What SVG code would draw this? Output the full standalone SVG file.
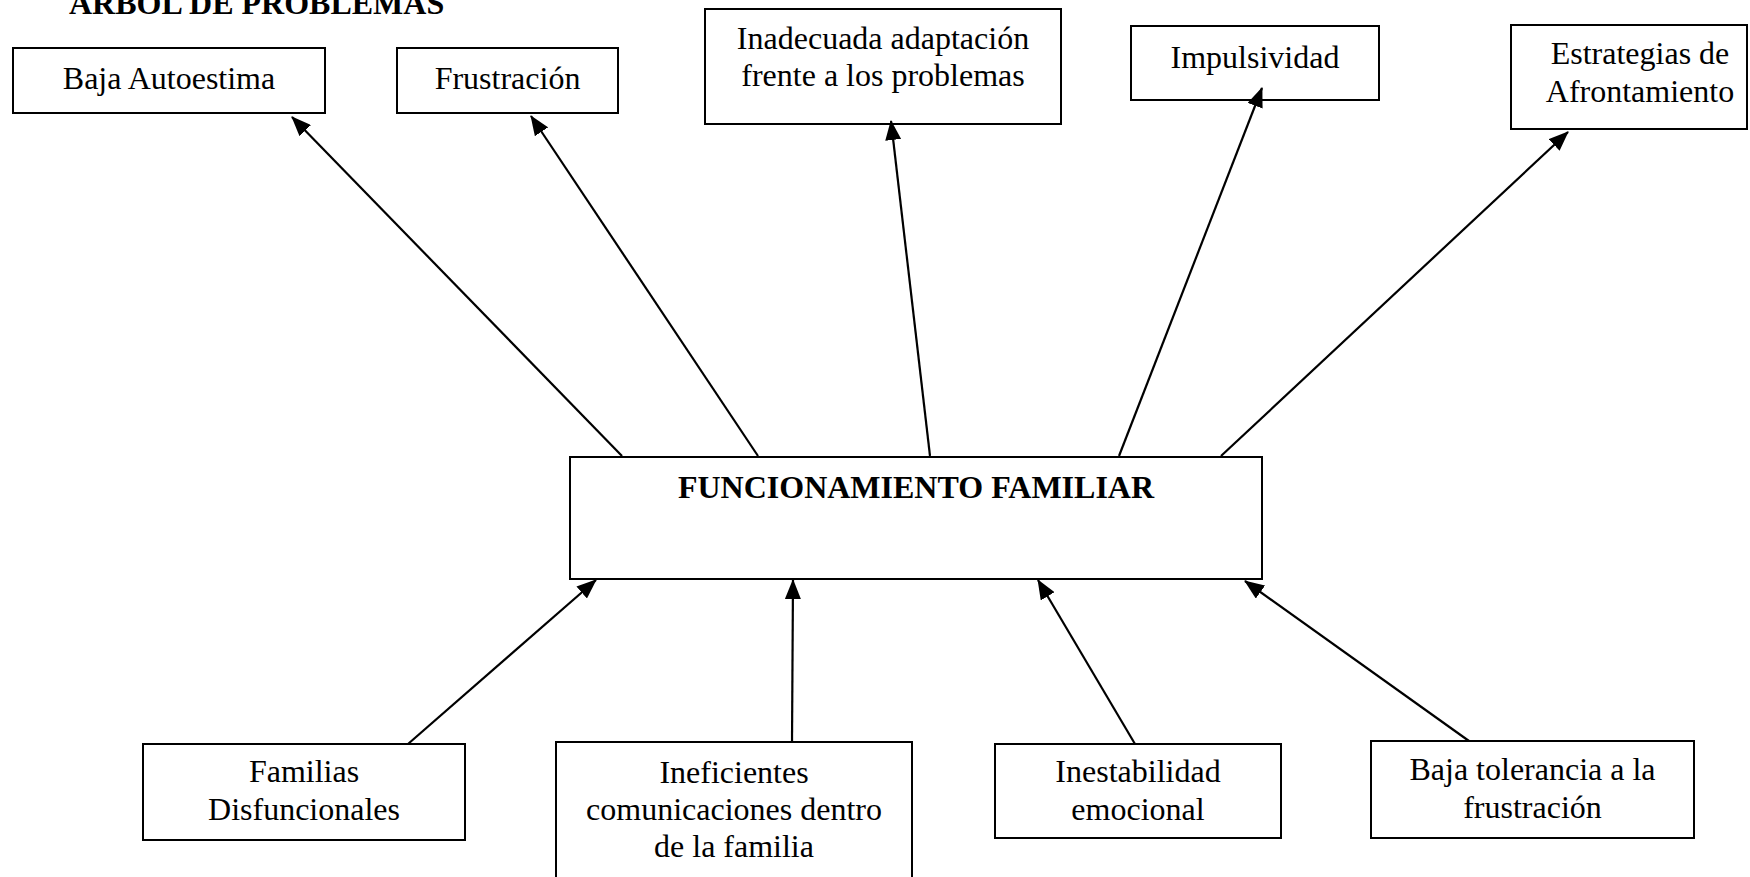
<svg xmlns="http://www.w3.org/2000/svg" width="1750" height="877" viewBox="0 0 1750 877">
<style>
  .box { fill: #ffffff; stroke: #000000; stroke-width: 2; }
  .t { font-family: "Liberation Serif", "Times New Roman", serif; font-size: 32px; fill: #000000; text-anchor: middle; }
  .b { font-weight: bold; }
  .edge { stroke: #000000; stroke-width: 2.2; fill: none; marker-end: url(#arrow); }
</style>
<defs>
  <marker id="arrow" markerUnits="userSpaceOnUse" viewBox="0 0 20 16" refX="19" refY="8" markerWidth="20" markerHeight="16" orient="auto">
    <path d="M0,0 L20,8 L0,16 z" fill="#000000"/>
  </marker>
</defs>
<rect width="1750" height="877" fill="#ffffff"/>
<g id="title">
  <text class="t b" x="69" y="14" style="text-anchor:start">ARBOL DE PROBLEMAS</text>
</g>
<g id="baja-autoestima">
  <rect class="box" x="13" y="48" width="312" height="65"/>
  <text class="t" x="169" y="89">Baja Autoestima</text>
</g>
<g id="frustracion">
  <rect class="box" x="397" y="48" width="221" height="65"/>
  <text class="t" x="507.5" y="89">Frustración</text>
</g>
<g id="inadecuada">
  <rect class="box" x="705" y="9" width="356" height="115"/>
  <text class="t" x="883" y="49">Inadecuada adaptación</text>
  <text class="t" x="883" y="86">frente a los problemas</text>
</g>
<g id="impulsividad">
  <rect class="box" x="1131" y="26" width="248" height="74"/>
  <text class="t" x="1255" y="68">Impulsividad</text>
</g>
<g id="estrategias">
  <rect class="box" x="1511" y="25" width="236" height="104"/>
  <text class="t" x="1640" y="64">Estrategias de</text>
  <text class="t" x="1640" y="102">Afrontamiento</text>
</g>
<g id="funcionamiento">
  <rect class="box" x="570" y="457" width="692" height="122"/>
  <text class="t b" x="916" y="498">FUNCIONAMIENTO FAMILIAR</text>
</g>
<g id="familias">
  <rect class="box" x="143" y="744" width="322" height="96"/>
  <text class="t" x="304" y="782">Familias</text>
  <text class="t" x="304" y="820">Disfuncionales</text>
</g>
<g id="ineficientes">
  <rect class="box" x="556" y="742" width="356" height="146"/>
  <text class="t" x="734" y="783">Ineficientes</text>
  <text class="t" x="734" y="820">comunicaciones dentro</text>
  <text class="t" x="734" y="857">de la familia</text>
</g>
<g id="inestabilidad">
  <rect class="box" x="995" y="744" width="286" height="94"/>
  <text class="t" x="1138" y="782">Inestabilidad</text>
  <text class="t" x="1138" y="820">emocional</text>
</g>
<g id="baja-tolerancia">
  <rect class="box" x="1371" y="741" width="323" height="97"/>
  <text class="t" x="1532.5" y="780">Baja tolerancia a la</text>
  <text class="t" x="1532.5" y="818">frustración</text>
</g>
<g id="connectors">
  <line class="edge" x1="622" y1="456" x2="292" y2="117"/>
  <line class="edge" x1="758" y1="456" x2="531" y2="116"/>
  <line class="edge" x1="930" y1="456" x2="891" y2="121"/>
  <line class="edge" x1="1119" y1="456" x2="1262" y2="88"/>
  <line class="edge" x1="1221" y1="456" x2="1568" y2="132"/>
  <line class="edge" x1="408" y1="744" x2="596" y2="580"/>
  <line class="edge" x1="792" y1="742" x2="793" y2="580"/>
  <line class="edge" x1="1135" y1="744" x2="1038" y2="580"/>
  <line class="edge" x1="1469" y1="741" x2="1245" y2="581"/>
</g>
</svg>
